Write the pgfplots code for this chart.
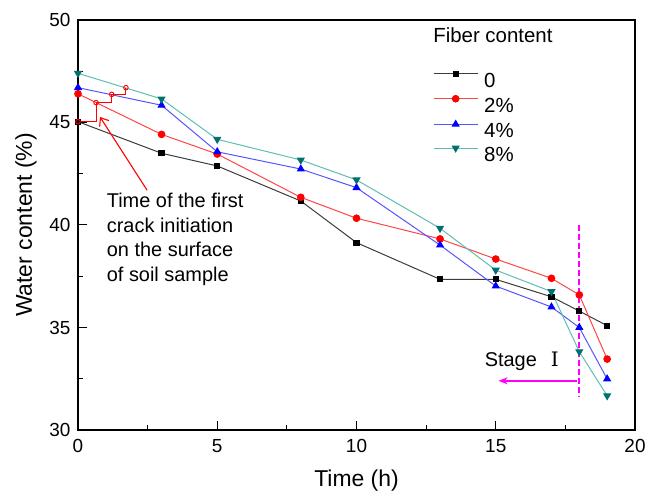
\documentclass[border=0pt]{standalone}
\usepackage{fontspec}
\setmainfont{Liberation Sans}
\newfontfamily\romannum{DejaVu Serif}
\usepackage{pgfplots}
\pgfplotsset{compat=1.18}
\usetikzlibrary{arrows.meta}

\definecolor{grayl}{RGB}{60,60,60}
\definecolor{redl}{RGB}{255,70,70}
\definecolor{bluel}{RGB}{85,85,255}
\definecolor{teall}{RGB}{95,190,180}
\definecolor{tealm}{RGB}{0,112,112}
\definecolor{mag}{RGB}{255,0,255}

\begin{document}
\begin{tikzpicture}
\begin{axis}[
    scale only axis,
    width=557bp, height=410bp,
    at={(0,0)}, anchor=south west,
    xmin=0, xmax=20, ymin=30, ymax=50,
    xtick={0,5,...,20}, ytick={30,35,...,50},
    minor x tick num=1, minor y tick num=1,
    xtick pos=bottom, ytick pos=left, tick align=inside,
    major tick length=9bp, minor tick length=5bp,
    axis line style={line width=1.4bp},
    every tick/.style={black, line width=1bp},
    tick label style={font=\fontsize{19}{21}\selectfont},
    xticklabel style={yshift=-6bp},
    yticklabel style={xshift=-4bp},
    /pgf/number format/assume math mode=true,
    xlabel={Time (h)}, ylabel={Water content (\%)},
    label style={font=\fontsize{23}{25}\selectfont},
    xlabel style={at={(axis description cs:0.5,-0.124)}, anchor=center},
    ylabel style={at={(axis description cs:-0.0934,0.5)}, anchor=center},
    clip=false,
    legend style={draw=none, fill=none, inner sep=0pt,
        at={(rel axis cs:0.6373,0.876)}, anchor=north west,
        font=\fontsize{20.5}{22}\selectfont,
        nodes={inner sep=0pt, text height=13bp, text depth=0bp, anchor=west},
        row sep=8.3bp, column sep=6bp},
    legend image code/.code={
        \draw[mark repeat=2, mark phase=2, #1, yshift=7bp]
            plot coordinates {(0bp,0bp) (22bp,0bp) (44bp,0bp)};},
]
% stage I boundary at t = 18 h (behind the data)
\addplot[mag, line width=1.8bp, dash pattern=on 6bp off 3bp, forget plot]
    coordinates {(18,40.0) (18,31.6)};

\addplot[grayl, line width=1bp, mark=square*,
    mark options={black, fill=black, mark size=2.6bp}]
    coordinates {(0,45.04) (3,43.5) (5,42.88) (8,41.17) (10,39.14)
                 (13,37.35) (15,37.35) (17,36.5) (18,35.8) (19,35.09)};
\addlegendentry{0}
\addplot[redl, line width=1bp, mark=*,
    mark options={red, fill=red, mark size=3.3bp}]
    coordinates {(0,46.4) (3,44.42) (5,43.46) (8,41.35) (10,40.33)
                 (13,39.32) (15,38.34) (17,37.4) (18,36.59) (19,33.46)};
\addlegendentry{2\%}
\addplot[bluel, line width=1bp, mark=triangle*,
    mark options={blue, fill=blue, mark size=3.8bp}]
    coordinates {(0,46.7) (3,45.84) (5,43.57) (8,42.73) (10,41.82)
                 (13,39.02) (15,37.02) (17,36.0) (18,35.0) (19,32.49)};
\addlegendentry{4\%}
\addplot[teall, line width=1bp, mark=triangle*,
    mark options={tealm, fill=tealm, mark size=3.8bp, rotate=180}]
    coordinates {(0,47.4) (3,46.15) (5,44.18) (8,43.17) (10,42.2)
                 (13,39.84) (15,37.8) (17,36.75) (18,33.82) (19,31.67)};
\addlegendentry{8\%}

% first crack initiation: staircase and open circles
\addplot[red, line width=1bp, forget plot]
    coordinates {(0,45.04) (0.65,45.04) (0.65,45.97) (1.21,45.97)
                 (1.21,46.37) (1.72,46.37) (1.72,46.7)};
\addplot[red, only marks, mark=o, line width=0.9bp, mark size=2.3bp, forget plot]
    coordinates {(0,45.04) (0.65,45.97) (1.21,46.37) (1.72,46.7)};

\draw[red, line width=1.1bp, -{Straight Barb[length=7bp,width=11bp]}]
    (axis cs:2.48,41.7) -- (axis cs:0.79,45.27);
\node[anchor=north west, inner sep=0pt, align=left,
      font=\fontsize{20}{24.7}\selectfont]
    at (axis cs:1.03,41.57)
    {Time of the first\\crack initiation\\on the surface\\of soil sample};

\node[anchor=west, inner sep=0pt, font=\fontsize{20.5}{22}\selectfont]
    at (axis cs:12.75,49.27) {Fiber content};

\draw[mag, line width=1.6bp, -{Stealth[length=9bp,width=7bp]}]
    (axis cs:17.9,32.4) -- (axis cs:15.1,32.4);
\node[anchor=west, inner sep=0pt, font=\fontsize{20}{22}\selectfont]
    at (axis cs:14.6,33.35) {Stage\hspace{14bp}{\romannum Ⅰ}};
\end{axis}
\pgfresetboundingbox
\path[use as bounding box] (-78bp,-69bp) rectangle (579bp,430bp);
\end{tikzpicture}
\end{document}
